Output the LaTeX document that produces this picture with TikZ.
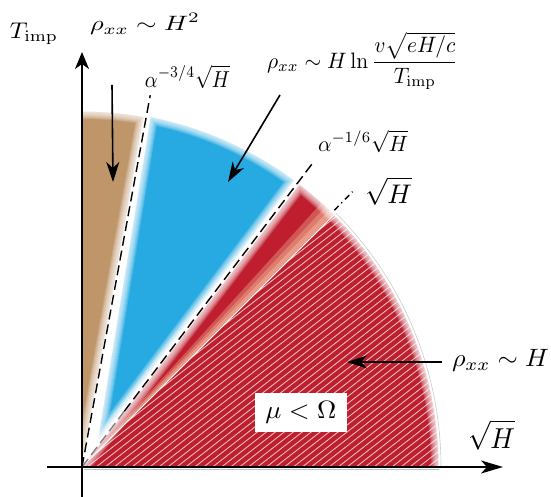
\documentclass[tikz,border=0pt]{standalone}
\usepackage{graphicx}
\usetikzlibrary{arrows.meta}
\definecolor{cbrown}{RGB}{191,149,106}
\definecolor{cblue}{RGB}{39,170,225}
\definecolor{cred}{RGB}{190,30,45}
\definecolor{csalmon}{RGB}{234,155,135}
\newcommand\softpath[1]{%
 \foreach \w in {8,7,6,5,4,3,2,1} {\draw[white,opacity=.17,line width=\w pt] #1;}
 \draw[white,opacity=.9,line width=0.5pt] #1;}
\newcommand\fitlab[3]{\resizebox*{#1}{#2}{$\displaystyle #3$}}
\begin{document}
\begin{tikzpicture}[x=0.5pt,y=0.5pt,
  lab/.style={inner sep=0pt},
  axisline/.style={line width=0.9pt},
  dashline/.style={line width=0.7pt, dash pattern=on 5pt off 2.5pt},
  dotdash/.style={line width=0.7pt, dash pattern=on 3pt off 2pt on 0.6pt off 2pt},
  arr/.style={line width=0.8pt, -{Stealth[length=10pt,width=6.5pt,inset=3pt]}},
  hatchline/.style={white, opacity=.7, line width=0.45pt}]
\useasboundingbox (-82,-30) rectangle (469,467);
\coordinate (O) at (0,0);
% brown region
\fill[cbrown] (O) -- (90:356) arc[start angle=90,end angle=79.9,radius=356] -- cycle;
\softpath{(90:356) arc[start angle=90,end angle=79.9,radius=356] -- (O)}
% blue region
\coordinate (B0) at (15,24);
\fill[cblue] (B0) -- (79.0:357) arc[start angle=79.0,end angle=53.4,radius=357] -- cycle;
\softpath{(B0) -- (79.0:357) arc[start angle=79.0,end angle=53.4,radius=357] -- cycle}
% red region
\begin{scope}
\clip (O) -- (0:357) arc[start angle=0,end angle=52.5,radius=357] -- cycle;
\fill[cred] (-5,-5) rectangle (400,400);
\fill[csalmon!45!cred] (O) -- (45:400) arc[start angle=45,end angle=47.8,radius=400] -- cycle;
\fill[csalmon!75!cred] (O) -- (45:400) arc[start angle=45,end angle=46.9,radius=400] -- cycle;
\fill[csalmon] (O) -- (45:400) arc[start angle=45,end angle=46.1,radius=400] -- cycle;
\begin{scope}
\clip (O) -- (0:400) arc[start angle=0,end angle=45,radius=400] -- cycle;
\foreach \c in {-284,-277,...,262} \draw[hatchline] (0,\c) -- (420,{\c+328});
\end{scope}
\draw[white, line width=0.5pt] (O) -- (45:400);
\end{scope}
\softpath{(0:357) arc[start angle=0,end angle=52.5,radius=357] -- (O)}
\draw[gray!40, line width=0.3pt] (0:359) arc[start angle=0,end angle=45,radius=359];
\coordinate (s1) at (2,-2.5);
\coordinate (s2) at (357,-2.5);
\draw[gray!50, line width=0.6pt] (s1) -- (s2);
% dashed lines
\coordinate (d1) at (79.6:378);
\coordinate (d2) at (52.8:381);
\coordinate (d2m) at (52.8:70);
\coordinate (d3a) at (45.5:360);
\coordinate (d3b) at (45.5:386);
\draw[dashline] (O) -- (d1);
\draw[dashline, gray] (O) -- (d2m);
\draw[dashline] (d2m) -- (d2);
\draw[dotdash] (d3a) -- (d3b);
% axes
\coordinate (ybot) at (0,-30);
\coordinate (ytop) at (0,415);
\coordinate (xl) at (-35,0);
\coordinate (xr) at (421,0);
\draw[axisline, -{Stealth[length=8.5pt,width=7pt,inset=2.5pt]}] (ybot) -- (ytop);
\draw[axisline, -{Stealth[length=11pt,width=6.5pt,inset=3pt]}] (xl) -- (xr);
% labels
\node[lab] (timp) at (-48,433) {\fitlab{24pt}{11pt}{T_{\mathrm{imp}}}};
\node[lab] (lh2) at (63,443) {\fitlab{55pt}{11pt}{\rho_{xx}\sim H^2}};
\node[lab] (la34) at (105.5,390) {\fitlab{42.5pt}{12pt}{\alpha^{-3/4}\sqrt{H}}};
\node[lab] (lln) at (280.5,406) {\fitlab{95.5pt}{29pt}{\rho_{xx}\sim H\ln\frac{v\sqrt{eH/c}}{T_{\mathrm{imp}}}}};
\node[lab] (la16) at (281,325.5) {\fitlab{45pt}{11.5pt}{\alpha^{-1/6}\sqrt{H}}};
\node[lab] (lsq) at (306.5,276) {\fitlab{23.5pt}{14pt}{\sqrt{H}}};
\node[lab] (lh) at (418.5,106.5) {\fitlab{48.5pt}{11pt}{\rho_{xx}\sim H}};
\node[lab] (lx) at (409.5,32) {\fitlab{23.5pt}{15pt}{\sqrt{H}}};
\node[fill=white, inner xsep=5.25pt, inner ysep=4.25pt] (mu) at (219,54.5) {\fitlab{35.5pt}{11pt}{\mu<\Omega}};
% arrows
\coordinate (a1s) at (30,382);
\coordinate (a1e) at (31,285);
\coordinate (a2s) at (198,372);
\coordinate (a2e) at (146,285);
\coordinate (a3s) at (360,105);
\coordinate (a3e) at (265,105);
\draw[arr] (a1s) -- (a1e);
\draw[arr] (a2s) -- (a2e);
\draw[arr] (a3s) -- (a3e);
\end{tikzpicture}
\end{document}
